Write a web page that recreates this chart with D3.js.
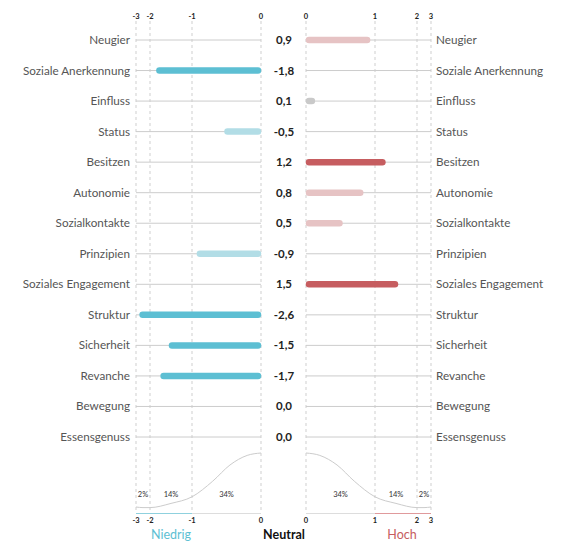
<!DOCTYPE html>
<html><head><meta charset="utf-8">
<script src="https://cdn.jsdelivr.net/npm/d3@7"></script>
<style>body{margin:0;background:#fff}svg{display:block}</style>
</head><body>
<svg id="c" width="575" height="558"></svg>
<script>
const categories = ["Neugier","Soziale Anerkennung","Einfluss","Status","Besitzen","Autonomie","Sozialkontakte","Prinzipien","Soziales Engagement","Struktur","Sicherheit","Revanche","Bewegung","Essensgenuss"];
const values = [0.9,-1.8,0.1,-0.5,1.2,0.8,0.5,-0.9,1.5,-2.6,-1.5,-1.7,0.0,0.0];
const valueLabels = ["0,9","-1,8","0,1","-0,5","1,2","0,8","0,5","-0,9","1,5","-2,6","-1,5","-1,7","0,0","0,0"];
const leftTicks = [-3,-2,-1,0];
const rightTicks = [0,1,2,3];
const curveX = [0,0.2,0.45,0.7,1,1.5,2,2.5,3];
const curveD = [1.0,0.96,0.80,0.53,0.27,0.16,0.09,0.09,0.10];
const pctLabels = ["34%","14%","2%"];
const pctMid = [0.5,1.5,2.5];

const svg = d3.select("#c");
const font = "Lato, 'Noto Sans', sans-serif";

// piecewise scales
const xL = d3.scaleLinear().domain([-3,-2,-1,0]).range([136,150,192,261]);
const xR = d3.scaleLinear().domain([0,1,2,3]).range([306,375,417,431]);
const y = d3.scalePoint().domain(categories).range([40,437]);
const yD = d3.scaleLinear().domain([0,1]).range([513,453]);

const colorPos = d3.scaleThreshold().domain([0.3,1]).range(["#c9c9c9","#e6c3c4","#c65d60"]);
const colorNeg = d3.scaleThreshold().domain([-1,-0.3]).range(["#5dbfd3","#b2dde6","#c9c9c9"]);

// dashed vertical grid
const grid = svg.append("g");
leftTicks.forEach(t=>grid.append("line").attr("x1",xL(t)).attr("x2",xL(t)).attr("y1",21).attr("y2",513)
  .attr("stroke","#cfcfcf").attr("stroke-dasharray","3,3"));
rightTicks.forEach(t=>grid.append("line").attr("x1",xR(t)).attr("x2",xR(t)).attr("y1",21).attr("y2",513)
  .attr("stroke","#cfcfcf").attr("stroke-dasharray","3,3"));

// axes ticks top and bottom
function tickText(scale, ticks, yy){
  svg.append("g").selectAll("text").data(ticks).join("text")
    .attr("x",d=>scale(d)).attr("y",yy).attr("text-anchor","middle")
    .attr("font-family",font).attr("font-size",7.5).attr("font-weight",700).attr("fill","#222")
    .text(d=>d);
}
tickText(xL,leftTicks,19); tickText(xR,rightTicks,19);
tickText(xL,leftTicks,523); tickText(xR,rightTicks,523);

// row lines
const rows = svg.append("g");
categories.forEach(c=>{
  rows.append("line").attr("x1",xL(-3)).attr("x2",xL(0)).attr("y1",y(c)).attr("y2",y(c)).attr("stroke","#cccccc");
  rows.append("line").attr("x1",xR(0)).attr("x2",xR(3)).attr("y1",y(c)).attr("y2",y(c)).attr("stroke","#cccccc");
});

// bars
svg.append("g").selectAll("line").data(categories.map((c,i)=>({c,v:values[i]})).filter(d=>d.v!==0)).join("line")
  .attr("x1",d=>d.v<0?xL(0)-3:xR(0)+3)
  .attr("x2",d=>d.v<0?Math.min(xL(d.v)+1,xL(0)-3):Math.max(xR(d.v)-1,xR(0)+3))
  .attr("y1",d=>y(d.c)).attr("y2",d=>y(d.c))
  .attr("stroke",d=>d.v<0?colorNeg(d.v):colorPos(d.v))
  .attr("stroke-width",6.5).attr("stroke-linecap","round");

// labels
svg.append("g").selectAll("text").data(categories).join("text")
  .attr("x",130).attr("y",d=>y(d)+4).attr("text-anchor","end")
  .attr("font-family",font).attr("font-size",11.7).attr("fill","#555").text(d=>d);
svg.append("g").selectAll("text").data(categories).join("text")
  .attr("x",436).attr("y",d=>y(d)+4).attr("text-anchor","start")
  .attr("font-family",font).attr("font-size",11.7).attr("fill","#555").text(d=>d);
svg.append("g").selectAll("text").data(valueLabels).join("text")
  .attr("x",284).attr("y",(d,i)=>y(categories[i])+4).attr("text-anchor","middle")
  .attr("font-family",font).attr("font-size",11.5).attr("font-weight",700).attr("fill","#222").text(d=>d);

// distribution curves
const pts = curveX.map((x,i)=>[x,curveD[i]]);
const lineR = d3.line().x(d=>xR(d[0])).y(d=>yD(d[1])).curve(d3.curveMonotoneX);
const lineL = d3.line().x(d=>xL(-d[0])).y(d=>yD(d[1])).curve(d3.curveMonotoneX);
svg.append("path").attr("d",lineR(pts)).attr("fill","none").attr("stroke","#cccccc").attr("stroke-width",1);
svg.append("path").attr("d",lineL(pts.slice().reverse())).attr("fill","none").attr("stroke","#cccccc").attr("stroke-width",1);

// baselines
svg.append("line").attr("x1",xL(-1)).attr("x2",xL(0)).attr("y1",513.5).attr("y2",513.5).attr("stroke","#dddddd");
svg.append("line").attr("x1",xL(-3)).attr("x2",xL(-1)).attr("y1",513.5).attr("y2",513.5).attr("stroke","#8fd1de");
svg.append("line").attr("x1",xR(0)).attr("x2",xR(1)).attr("y1",513.5).attr("y2",513.5).attr("stroke","#dddddd");
svg.append("line").attr("x1",xR(1)).attr("x2",xR(3)).attr("y1",513.5).attr("y2",513.5).attr("stroke","#e09a9c");

// percentages
pctLabels.forEach((p,i)=>{
  [xL(-pctMid[i]), xR(pctMid[i])].forEach(xx=>{
    svg.append("text").attr("x",xx).attr("y",497).attr("text-anchor","middle")
      .attr("font-family",font).attr("font-size",7.5).attr("fill","#333").text(p);
  });
});

// bottom legend
svg.append("text").attr("x",171).attr("y",539).attr("text-anchor","middle").attr("font-family",font)
  .attr("font-size",12.5).attr("fill","#5dbfd3").text("Niedrig");
svg.append("text").attr("x",284).attr("y",539).attr("text-anchor","middle").attr("font-family",font)
  .attr("font-size",12.5).attr("font-weight",700).attr("fill","#111").text("Neutral");
svg.append("text").attr("x",402).attr("y",539).attr("text-anchor","middle").attr("font-family",font)
  .attr("font-size",12.5).attr("fill","#c65d60").text("Hoch");
</script>
</body></html>
